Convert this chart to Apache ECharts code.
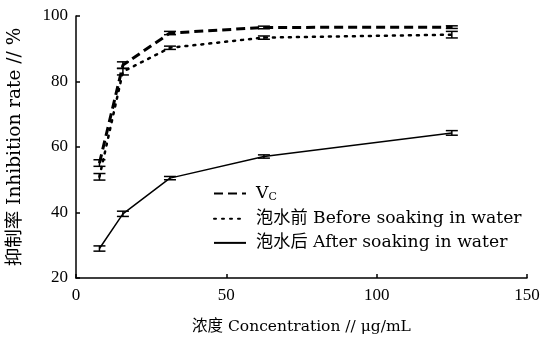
<!DOCTYPE html>
<html><head><meta charset="utf-8">
<script src="https://cdn.jsdelivr.net/npm/echarts@6/dist/echarts.min.js"></script>
<style>html,body{margin:0;padding:0;background:#fff}#c{width:541px;height:341px}</style>
</head><body><div id="c"></div>
<script>
var concentrations = [7.8, 15.6, 31.25, 62.5, 125];
var vcValues = [55.1, 85.0, 94.8, 96.5, 96.6];
var vcErrors = [1.0, 1.0, 0.5, 0.4, 0.4];
var beforeValues = [50.9, 83.0, 90.3, 93.4, 94.3];
var beforeErrors = [1.0, 1.0, 0.5, 0.5, 1.0];
var afterValues = [29.0, 39.6, 50.5, 57.1, 64.3];
var afterErrors = [0.8, 0.8, 0.5, 0.5, 0.7];
var seriesNames = ['Vc', '泡水前 Before soaking in water', '泡水后 After soaking in water'];
var xTicks = [0, 50, 100, 150];
var yTicks = [20, 40, 60, 80, 100];

var FONT = '"Liberation Serif", "Noto Sans CJK SC", serif';
var TFONT = '"DejaVu Serif", "Noto Sans CJK SC", serif';

function pairs(vals) { return concentrations.map(function (x, i) { return [x, vals[i]]; }); }
function errData(vals, errs) { return concentrations.map(function (x, i) { return [x, vals[i], errs[i]]; }); }
function errSeries(vals, errs) {
  return {
    type: 'custom', silent: true, z: 5,
    encode: { x: 0, y: 1 },
    data: errData(vals, errs),
    renderItem: function (params, api) {
      var x = api.value(0), y = api.value(1), e = api.value(2);
      var lo = api.coord([x, y - e]), hi = api.coord([x, y + e]);
      var w = 6;
      var st = { stroke: '#000', lineWidth: 1.5 };
      return { type: 'group', children: [
        { type: 'line', shape: { x1: lo[0], y1: lo[1], x2: hi[0], y2: hi[1] }, style: st },
        { type: 'line', shape: { x1: lo[0] - w, y1: lo[1], x2: lo[0] + w, y2: lo[1] }, style: st },
        { type: 'line', shape: { x1: hi[0] - w, y1: hi[1], x2: hi[0] + w, y2: hi[1] }, style: st }
      ]};
    }
  };
}

var chart = echarts.init(document.getElementById('c'), null, { renderer: 'canvas' });
chart.setOption({
  animation: false,
  backgroundColor: '#fff',
  grid: { left: 76, right: 14, top: 16, bottom: 63, containLabel: false, outerBoundsMode: 'none' },
  xAxis: {
    type: 'value', min: xTicks[0], max: xTicks[xTicks.length - 1], interval: 50,
    name: '浓度 Concentration // μg/mL', nameLocation: 'middle', nameGap: 41,
    nameTextStyle: { fontFamily: TFONT, fontSize: 15.5, color: '#000' },
    axisLine: { show: true, lineStyle: { color: '#000', width: 1.5 } },
    axisTick: { show: true, inside: true, length: 4, lineStyle: { color: '#000', width: 1.5 } },
    axisLabel: { fontFamily: FONT, fontSize: 17, color: '#000', margin: 9 },
    splitLine: { show: false }
  },
  yAxis: {
    type: 'value', min: yTicks[0], max: yTicks[yTicks.length - 1], interval: 20,
    name: '抑制率 Inhibition rate // %', nameLocation: 'middle', nameGap: 52, nameRotate: 90,
    nameTextStyle: { fontFamily: TFONT, fontSize: 18.5, color: '#000' },
    axisLine: { show: true, lineStyle: { color: '#000', width: 1.5 } },
    axisTick: { show: true, inside: true, length: 4, lineStyle: { color: '#000', width: 1.5 } },
    axisLabel: { fontFamily: FONT, fontSize: 17, color: '#000', margin: 8 },
    splitLine: { show: false }
  },
  legend: {
    orient: 'vertical', left: 208, top: 180, itemWidth: 32, itemHeight: 14, itemGap: 7,
    data: seriesNames,
    itemStyle: { opacity: 0 },
    formatter: function (n) { return n === 'Vc' ? '{v|V}{s|C}' : n; },
    textStyle: { fontFamily: TFONT, fontSize: 17.2, color: '#000', padding: [0, 0, 0, 5],
      rich: { v: { fontFamily: TFONT, fontSize: 17.2, color: '#000' },
              s: { fontFamily: TFONT, fontSize: 11, color: '#000', verticalAlign: 'bottom', padding: [8, 0, 0, 0] } } }
  },
  series: [
    { name: seriesNames[0], type: 'line', data: pairs(vcValues), symbol: 'none', z: 3,
      itemStyle: { color: '#000' }, lineStyle: { color: '#000', width: 3, type: [9, 5] } },
    { name: seriesNames[1], type: 'line', data: pairs(beforeValues), symbol: 'none', z: 3,
      itemStyle: { color: '#000' }, lineStyle: { color: '#000', width: 2.5, type: [2, 6], cap: 'round' } },
    { name: seriesNames[2], type: 'line', data: pairs(afterValues), symbol: 'none', z: 3,
      itemStyle: { color: '#000' }, lineStyle: { color: '#000', width: 1.5, type: 'solid' } },
    errSeries(vcValues, vcErrors),
    errSeries(beforeValues, beforeErrors),
    errSeries(afterValues, afterErrors)
  ]
});
</script></body></html>
